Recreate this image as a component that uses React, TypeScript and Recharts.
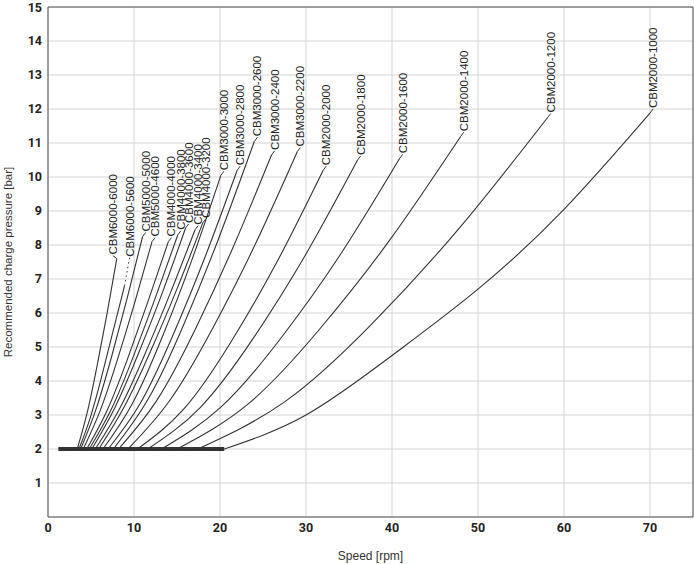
import React from 'react';
import { LineChart, Line, XAxis, YAxis, CartesianGrid, ReferenceLine } from 'recharts';

const xTicks = [0, 10, 20, 30, 40, 50, 60, 70];
const yTicks = [1, 2, 3, 4, 5, 6, 7, 8, 9, 10, 11, 12, 13, 14, 15];

const models = [
  'CBM6000-6000', 'CBM6000-5600', 'CBM5000-5000', 'CBM5000-4600', 'CBM4000-4000',
  'CBM4000-3800', 'CBM4000-3600', 'CBM4000-3400', 'CBM4000-3200', 'CBM3000-3000',
  'CBM3000-2800', 'CBM3000-2600', 'CBM3000-2400', 'CBM3000-2200', 'CBM2000-2000',
  'CBM2000-1800', 'CBM2000-1600', 'CBM2000-1400', 'CBM2000-1200', 'CBM2000-1000',
];

// speed [rpm] per curve
const curveSpeeds = [
  [3.4, 4.55, 5.7, 6.85, 8.0],
  [3.6, 4.9, 6.2, 7.5, 8.9],
  [3.8, 5.6, 7.4, 9.2, 11.0],
  [4.1, 6.1, 8.1, 10.1, 12.1],
  [4.5, 6.9, 9.25, 11.6, 14.0],
  [4.8, 7.4, 9.95, 12.5, 15.1],
  [5.1, 7.8, 10.55, 13.3, 16.0],
  [5.5, 8.4, 11.3, 14.2, 17.1],
  [5.9, 8.9, 11.95, 15.0, 18.0],
  [6.4, 9.8, 13.25, 16.7, 20.1],
  [7.0, 10.75, 14.5, 18.25, 22.0],
  [7.6, 11.7, 15.8, 19.9, 24.0],
  [8.2, 12.65, 17.1, 21.55, 26.0],
  [9.3, 14.2, 19.15, 24.1, 29.0],
  [10.4, 15.8, 21.2, 26.6, 32.0],
  [11.6, 17.7, 23.8, 29.9, 36.0],
  [13.2, 20.1, 27.05, 34.0, 40.9],
  [15.0, 23.25, 31.5, 39.75, 48.0],
  [17.4, 27.6, 37.75, 47.9, 58.1],
  [20.5, 30, 40, 50, 60, 70],
];

// charge pressure [bar] per curve
const curvePressures = [
  [2, 3.06, 4.44, 5.96, 7.6],
  [2, 2.91, 4.09, 5.4, 6.8],
  [2, 3.18, 4.72, 6.43, 8.25],
  [2, 3.15, 4.65, 6.32, 8.1],
  [2, 3.15, 4.65, 6.32, 8.1],
  [2, 3.19, 4.74, 6.46, 8.3],
  [2, 3.23, 4.83, 6.6, 8.5],
  [2, 3.22, 4.81, 6.57, 8.45],
  [2, 3.26, 4.89, 6.71, 8.65],
  [2, 3.33, 5.27, 7.54, 10.05],
  [2, 3.35, 5.33, 7.64, 10.2],
  [2, 3.49, 5.67, 8.23, 11.05],
  [2, 3.43, 5.51, 7.95, 10.65],
  [2, 3.44, 5.55, 8.02, 10.75],
  [2, 3.18, 5.12, 7.49, 10.2],
  [2, 3.22, 5.23, 7.69, 10.5],
  [2, 3.23, 5.25, 7.72, 10.55],
  [2, 3.32, 5.5, 8.15, 11.2],
  [2, 3.4, 5.7, 8.52, 11.75],
  [2, 3.0, 4.75, 6.7, 9.05, 11.88],
];

const baseSpeed = [1.2, 20.5];
const basePressure = [2, 2];

// leader offsets (px) for labels that do not sit right at their curve end
const leaderOffset: Record<string, { dx: number; dy: number; dotted?: boolean }> = {
  'CBM6000-6000': { dx: -4, dy: 3 },
  'CBM6000-5600': { dx: 5, dy: 28, dotted: true },
};

const series = models.map((name, i) => ({
  name,
  points: curveSpeeds[i].map((x, j) => ({ x, y: curvePressures[i][j] })),
}));

const basePoints = baseSpeed.map((x, j) => ({ x, y: basePressure[j] }));

const tickStyle = { fontFamily: 'Roboto, sans-serif', fontSize: 12.5, fontWeight: 700, fill: '#222' };
const labelFont = "'Liberation Sans', Arial, sans-serif";

function endLabel(name: string, last: number) {
  const off = leaderOffset[name] || { dx: 3, dy: 4 };
  return (props: any) => {
    const { x, y, index } = props;
    if (index !== last) return <g />;
    return (
      <g>
        <line
          x1={x}
          y1={y}
          x2={x + off.dx}
          y2={y - off.dy}
          stroke="#333"
          strokeWidth={1}
          strokeDasharray={off.dotted ? '1.5 3' : undefined}
        />
        <text
          x={0}
          y={0}
          dy="0.35em"
          transform={`translate(${x + off.dx},${y - off.dy - 1}) rotate(-90)`}
          textAnchor="start"
          fontFamily={labelFont}
          fontSize={11.5}
          fill="#222"
        >
          {name}
        </text>
      </g>
    );
  };
}

export default function App() {
  return (
    <div style={{ position: 'absolute', left: 0, top: 0 }}>
      <LineChart width={694} height={564} margin={{ top: 7, right: 1, bottom: 0, left: 0 }}>
        <CartesianGrid stroke="#d4d4d4" strokeWidth={1} />
        <XAxis
          type="number"
          dataKey="x"
          domain={[0, 75]}
          ticks={xTicks}
          height={47}
          axisLine={{ stroke: '#555' }}
          tickLine={false}
          tickSize={4}
          tickMargin={2}
          tick={tickStyle}
          label={{ value: 'Speed [rpm]', position: 'insideBottom', offset: 4, style: { fontFamily: labelFont, fontSize: 12, fill: '#333' } }}
        />
        <YAxis
          type="number"
          domain={[0, 15]}
          ticks={yTicks}
          width={48}
          axisLine={{ stroke: '#555' }}
          tickLine={false}
          tickSize={3}
          tickMargin={3}
          tick={tickStyle}
          label={{ value: 'Recommended charge pressure [bar]', angle: -90, position: 'insideLeft', offset: 8, style: { textAnchor: 'middle', fontFamily: labelFont, fontSize: 11.5, fill: '#333' } }}
        />
        <ReferenceLine y={15} stroke="#555" />
        <ReferenceLine x={75} stroke="#555" />
        <Line
          data={basePoints}
          dataKey="y"
          type="linear"
          dot={false}
          stroke="#333"
          strokeWidth={4}
          isAnimationActive={false}
        />
        {series.map((s) => (
          <Line
            key={s.name}
            data={s.points}
            dataKey="y"
            name={s.name}
            type="natural"
            dot={false}
            stroke="#333"
            strokeWidth={1.1}
            isAnimationActive={false}
            label={endLabel(s.name, s.points.length - 1)}
          />
        ))}
      </LineChart>
    </div>
  );
}
